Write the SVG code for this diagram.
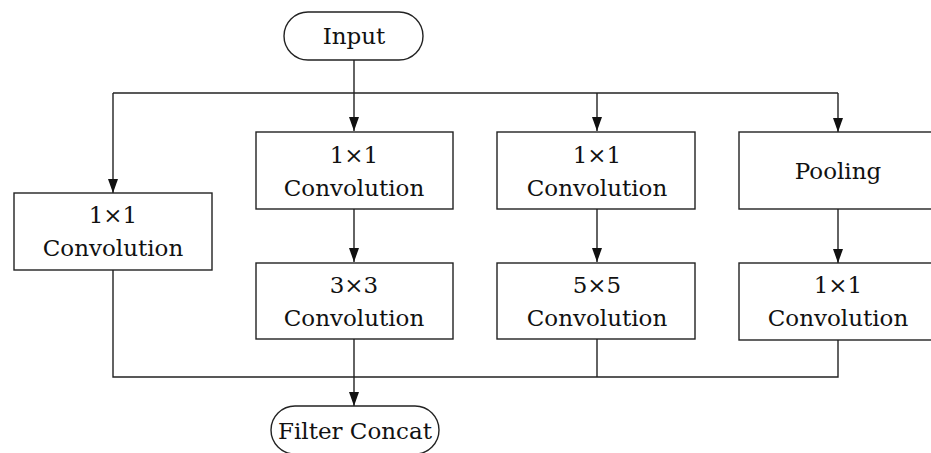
<svg xmlns="http://www.w3.org/2000/svg" width="931" height="453" viewBox="0 0 931 453">
<style>
.box{fill:#fff;stroke:#222;stroke-width:1.4}
.ln{fill:none;stroke:#222;stroke-width:1.4}
</style>
<defs>
<marker id="arr" viewBox="0 0 14 10" refX="14" refY="5" markerWidth="14" markerHeight="10" markerUnits="userSpaceOnUse" orient="auto">
<path d="M0,0 L14,5 L0,10 Z" fill="#111"/>
</marker>
</defs>
<g id="connectors">
<line class="ln" x1="354" y1="60" x2="354" y2="131" marker-end="url(#arr)"/>
<line class="ln" x1="113" y1="93" x2="838" y2="93"/>
<line class="ln" x1="113" y1="93" x2="113" y2="193" marker-end="url(#arr)"/>
<line class="ln" x1="597" y1="93" x2="597" y2="131" marker-end="url(#arr)"/>
<line class="ln" x1="838" y1="93" x2="838" y2="132" marker-end="url(#arr)"/>
<line class="ln" x1="354" y1="209" x2="354" y2="262" marker-end="url(#arr)"/>
<line class="ln" x1="597" y1="209" x2="597" y2="262" marker-end="url(#arr)"/>
<line class="ln" x1="838" y1="209" x2="838" y2="263" marker-end="url(#arr)"/>
<polyline class="ln" points="113,270 113,377 838,377 838,340"/>
<line class="ln" x1="597" y1="339" x2="597" y2="377"/>
<line class="ln" x1="354" y1="339" x2="354" y2="406" marker-end="url(#arr)"/>
</g>
<g font-family="DejaVu Serif, serif" font-size="23" fill="#111" text-anchor="middle">
<g id="input">
<rect class="box" x="284" y="12" width="139" height="48" rx="24"/>
<text x="354" y="44">Input</text>
</g>
<g id="conv1x1-a">
<rect class="box" x="14" y="193" width="198" height="77"/>
<text x="113" y="223">1×1</text>
<text x="113" y="256">Convolution</text>
</g>
<g id="conv1x1-b">
<rect class="box" x="256" y="132" width="197" height="77"/>
<text x="354" y="163">1×1</text>
<text x="354" y="196">Convolution</text>
</g>
<g id="conv3x3">
<rect class="box" x="256" y="263" width="197" height="76"/>
<text x="354" y="293">3×3</text>
<text x="354" y="326">Convolution</text>
</g>
<g id="conv1x1-c">
<rect class="box" x="497" y="132" width="198" height="77"/>
<text x="597" y="163">1×1</text>
<text x="597" y="196">Convolution</text>
</g>
<g id="conv5x5">
<rect class="box" x="497" y="263" width="198" height="76"/>
<text x="597" y="293">5×5</text>
<text x="597" y="326">Convolution</text>
</g>
<g id="pooling">
<rect class="box" x="739" y="132" width="198" height="77"/>
<text x="838" y="179">Pooling</text>
</g>
<g id="conv1x1-d">
<rect class="box" x="739" y="263" width="198" height="77"/>
<text x="838" y="293">1×1</text>
<text x="838" y="326">Convolution</text>
</g>
<g id="filter-concat">
<rect class="box" x="271" y="406" width="168" height="48" rx="24"/>
<text x="355" y="439">Filter Concat</text>
</g>
</g>
</svg>
